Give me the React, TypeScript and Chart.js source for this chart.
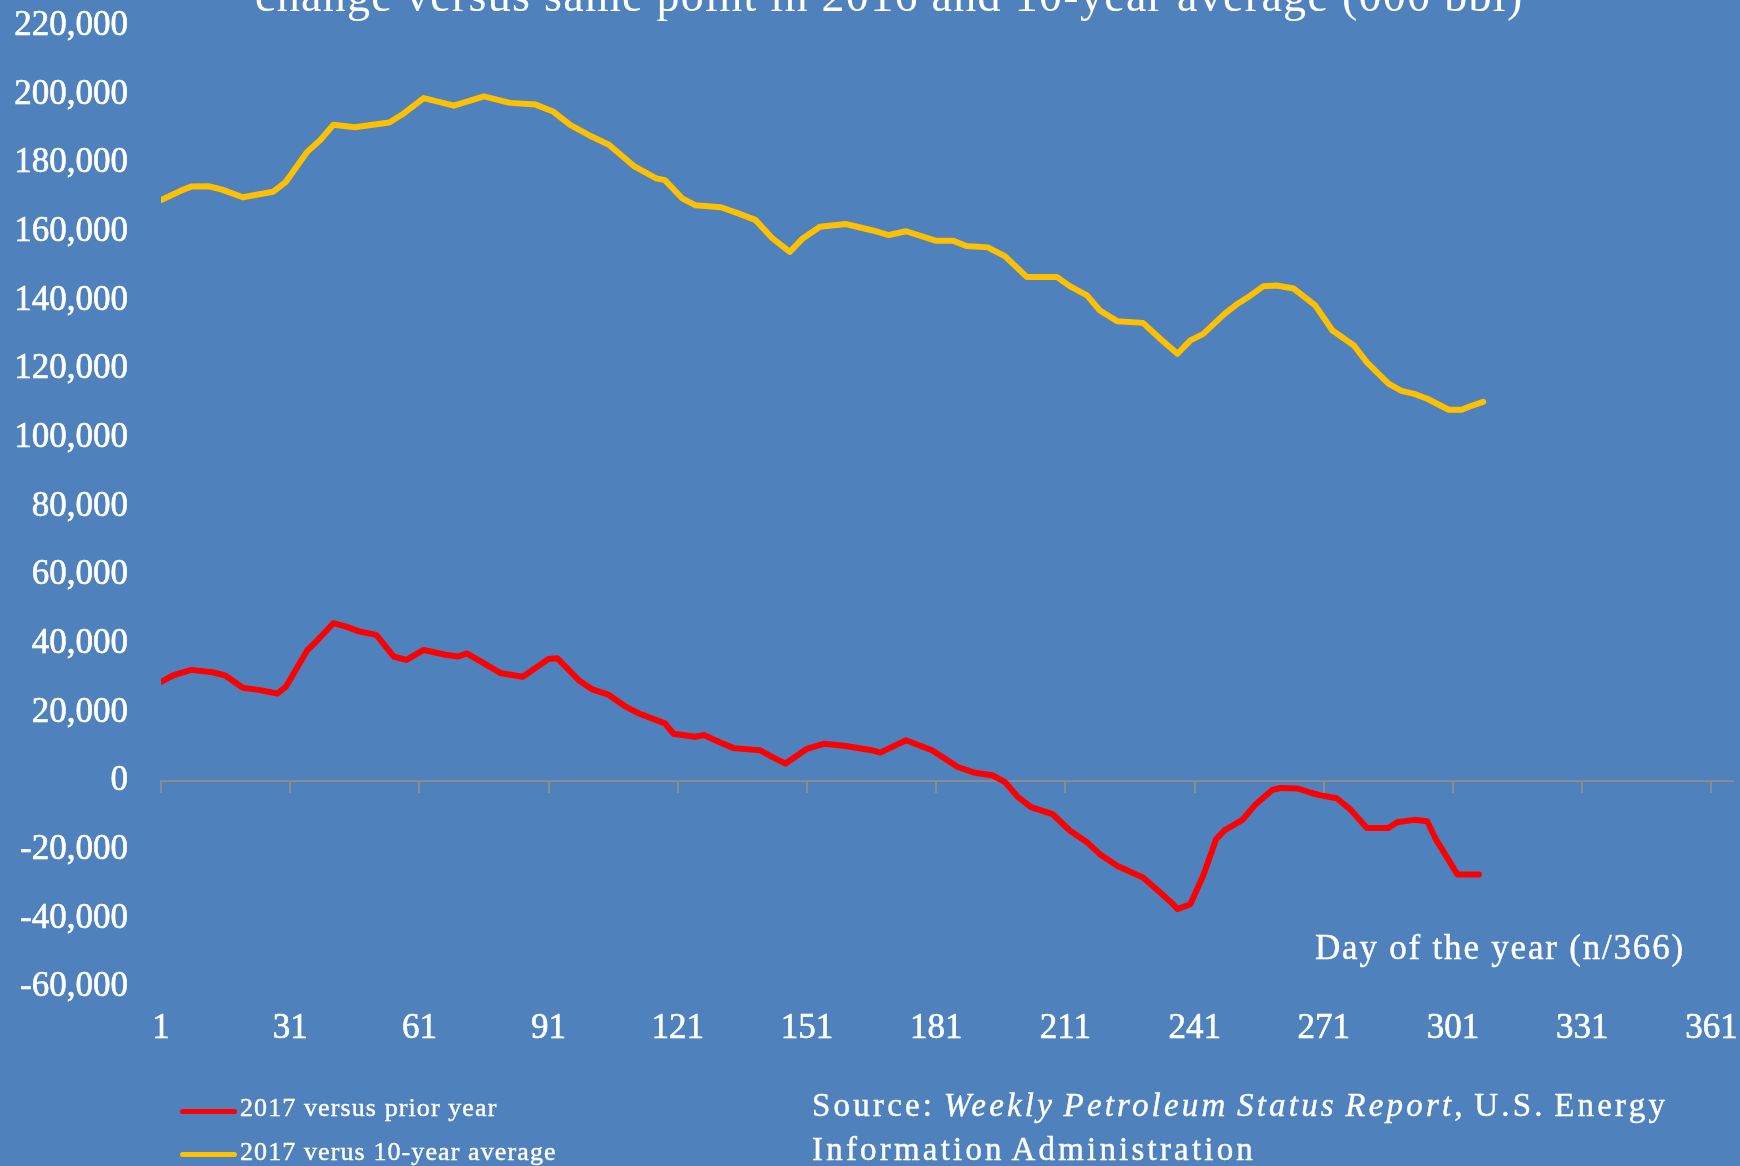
import React, { useEffect, useRef } from "react";
import { Chart, registerables } from "chart.js";

Chart.register(...registerables);

// ---------- data ----------
const xTickDays = [1, 31, 61, 91, 121, 151, 181, 211, 241, 271, 301, 331, 361];
const xMin = 1;
const xMax = 366;
const yMin = -60000;
const yMax = 220000;
const yStep = 20000;

const priorYearDays = [
  1, 4, 8, 13, 16, 20, 24, 28, 30, 35, 37, 41, 44, 47, 51, 55, 58, 62, 67, 70, 72, 76, 80, 85, 91, 93,
  98, 101, 105, 109, 112, 118, 120, 125, 127, 131, 134, 140, 143, 146, 151, 155, 160, 166, 168, 174,
  180, 186, 190, 194, 197, 200, 203, 208, 212, 216, 219, 223, 229, 233, 236, 237, 240, 243, 246, 248,
  252, 255, 259, 261, 265, 268, 270, 274, 277, 281, 286, 288, 292, 295, 297, 302, 307,
];
const priorYearValues = [
  28900, 30900, 32400, 31700, 30700, 27200, 26500, 25500, 27500, 38200, 40600, 46000, 45000, 43600,
  42600, 36300, 35300, 38200, 36800, 36300, 37200, 34300, 31400, 30400, 35600, 35800, 29400, 26800,
  25100, 21600, 19700, 16800, 13800, 12900, 13400, 11200, 9600, 9000, 7000, 5100, 9400, 10900, 10200,
  9000, 8300, 11900, 9000, 4100, 2400, 1700, -300, -4700, -7600, -9600, -14400, -17800, -21300, -24700,
  -28100, -32500, -35900, -37300, -35900, -27500, -16900, -14300, -11400, -7000, -2600, -2000, -2200,
  -3400, -4100, -5000, -8100, -13700, -13700, -12000, -11300, -11700, -16900, -27200, -27200,
];

const tenYearDays = [
  1, 6, 8, 12, 15, 20, 27, 30, 35, 38, 41, 46, 54, 57, 62, 69, 76, 82, 88, 92, 96, 101, 105, 111, 116,
  118, 122, 125, 131, 135, 139, 143, 147, 150, 154, 160, 166, 170, 174, 181, 185, 188, 193, 197, 202,
  209, 212, 216, 219, 223, 229, 233, 237, 240, 243, 248, 251, 254, 257, 260, 264, 269, 273, 278, 281,
  286, 289, 292, 295, 300, 303, 305, 308,
];
const tenYearValues = [
  169300, 172200, 173200, 173300, 172400, 170100, 171700, 174600, 183400, 186800, 191200, 190500,
  191900, 194200, 199000, 196800, 199500, 197600, 197100, 195100, 191200, 187800, 185400, 179000,
  175600, 175100, 169800, 167800, 167200, 165400, 163500, 158100, 154200, 158100, 161500, 162300,
  160500, 159100, 160200, 157400, 157400, 155900, 155500, 152900, 146900, 146900, 144200, 141500,
  137100, 134000, 133500, 128900, 124500, 128400, 130300, 136200, 139100, 141500, 144200, 144400,
  143500, 138600, 131300, 126900, 122000, 115800, 113700, 112800, 111400, 108200, 108200, 109200,
  110500,
];

const seriesLabels = ["2017 versus prior year", "2017 verus 10-year average"];
const seriesColors = ["#FF0000", "#FFC000"];

const titleText = "change versus same point in 2016 and 10-year average (000 bbl)";
const xAxisLabel = "Day of the year (n/366)";
const sourcePrefix = "Source: ";
const sourceItalic = "Weekly Petroleum Status Report";
const sourceSuffix = ", U.S. Energy";
const sourceLine2 = "Information Administration";

// ---------- style ----------
const BG = "#4F81BD";
const AXIS = "#8C8C8C";
const FONT = "'Liberation Serif', 'Times New Roman', serif";

export default function App() {
  const canvasRef = useRef<HTMLCanvasElement | null>(null);

  useEffect(() => {
    const canvas = canvasRef.current;
    if (!canvas) return;
    const setDayTicks = (scale: any) => {
      scale.ticks = xTickDays.map((v) => ({ value: v }));
    };
    const tickFont = { family: FONT, size: 35, weight: "normal" as const };

    const chart = new Chart(canvas, {
      type: "line",
      data: {
        datasets: [
          {
            label: seriesLabels[0],
            data: priorYearDays.map((d, i) => ({ x: d, y: priorYearValues[i] })),
            borderColor: seriesColors[0],
            backgroundColor: seriesColors[0],
            borderWidth: 6,
            pointRadius: 0,
            tension: 0,
            borderJoinStyle: "round",
            borderCapStyle: "round",
            xAxisID: "x",
            yAxisID: "y",
          },
          {
            label: seriesLabels[1],
            data: tenYearDays.map((d, i) => ({ x: d, y: tenYearValues[i] })),
            borderColor: seriesColors[1],
            backgroundColor: seriesColors[1],
            borderWidth: 6,
            pointRadius: 0,
            tension: 0,
            borderJoinStyle: "round",
            borderCapStyle: "round",
            xAxisID: "x",
            yAxisID: "y",
          },
        ],
      },
      options: {
        animation: false,
        responsive: false,
        devicePixelRatio: 1,
        layout: { padding: { top: 26, right: 7, bottom: 113, left: 0 } },
        plugins: {
          legend: { display: false },
          tooltip: { enabled: false },
          title: { display: false },
        },
        scales: {
          x: {
            type: "linear",
            position: "bottom",
            min: xMin,
            max: xMax,
            afterBuildTicks: setDayTicks,
            afterFit: (scale: any) => {
              scale.height = 66;
            },
            grid: { display: false, drawTicks: true, tickLength: 21 },
            border: { display: false },
            ticks: {
              color: "#FFFFFF",
              font: tickFont,
              padding: 0,
              autoSkip: false,
              maxRotation: 0,
              textStrokeColor: "#FFFFFF",
              textStrokeWidth: 0.6,
              callback: (v: any) => String(v),
            },
          },
          x2: {
            type: "linear",
            axis: "x",
            position: { y: 0 },
            min: xMin,
            max: xMax,
            afterBuildTicks: setDayTicks,
            ticks: { display: false },
            grid: {
              display: true,
              drawOnChartArea: false,
              drawTicks: true,
              tickLength: 11,
              color: AXIS,
              lineWidth: 2,
            },
            border: { display: true, color: AXIS, width: 2 },
          },
          y: {
            type: "linear",
            min: yMin,
            max: yMax,
            afterFit: (scale: any) => {
              scale.width = 161;
            },
            grid: { display: false, drawTicks: true, tickLength: 33 },
            border: { display: false },
            ticks: {
              stepSize: yStep,
              color: "#FFFFFF",
              font: tickFont,
              padding: 0,
              textStrokeColor: "#FFFFFF",
              textStrokeWidth: 0.6,
              callback: (v: any) => Number(v).toLocaleString("en-US"),
            },
          },
        },
      } as any,
    });
    return () => chart.destroy();
  }, []);

  return (
    <div
      style={{
        position: "absolute",
        left: 0,
        top: 0,
        width: 1740,
        height: 1166,
        background: BG,
        overflow: "hidden",
        fontFamily: FONT,
        color: "#FFFFFF",
      }}
    >
      <canvas
        ref={canvasRef}
        width={1740}
        height={1166}
        style={{ position: "absolute", left: 0, top: 0, width: 1740, height: 1166 }}
      />
      <div
        style={{
          position: "absolute",
          left: 255,
          top: -27,
          fontSize: 46,
          lineHeight: "46px",
          letterSpacing: "1.3px",
          whiteSpace: "nowrap",
        }}
      >
        {titleText}
      </div>
      <div
        style={{
          position: "absolute",
          left: 1315,
          top: 928,
          fontSize: 35,
          lineHeight: "40px",
          letterSpacing: "1.8px",
          whiteSpace: "nowrap",
          WebkitTextStroke: "0.4px #FFFFFF",
        }}
      >
        {xAxisLabel}
      </div>
      {seriesLabels.map((label, i) => (
        <React.Fragment key={label}>
          <div
            style={{
              position: "absolute",
              left: 180,
              top: (i === 0 ? 1111 : 1154) - 2.5,
              width: 57,
              height: 5,
              borderRadius: 2.5,
              background: seriesColors[i],
            }}
          />
          <div
            style={{
              position: "absolute",
              left: 240,
              top: i === 0 ? 1093 : 1137,
              fontSize: 26,
              lineHeight: "30px",
              letterSpacing: "1.1px",
              whiteSpace: "nowrap",
              WebkitTextStroke: "0.4px #FFFFFF",
            }}
          >
            {label}
          </div>
        </React.Fragment>
      ))}
      <div
        style={{
          position: "absolute",
          left: 812,
          top: 1083,
          fontSize: 33,
          lineHeight: "44px",
          letterSpacing: "3.2px",
          wordSpacing: "-3px",
          whiteSpace: "nowrap",
          WebkitTextStroke: "0.4px #FFFFFF",
        }}
      >
        {sourcePrefix}
        <i>{sourceItalic}</i>
        {sourceSuffix}
        <br />
        {sourceLine2}
      </div>
    </div>
  );
}
